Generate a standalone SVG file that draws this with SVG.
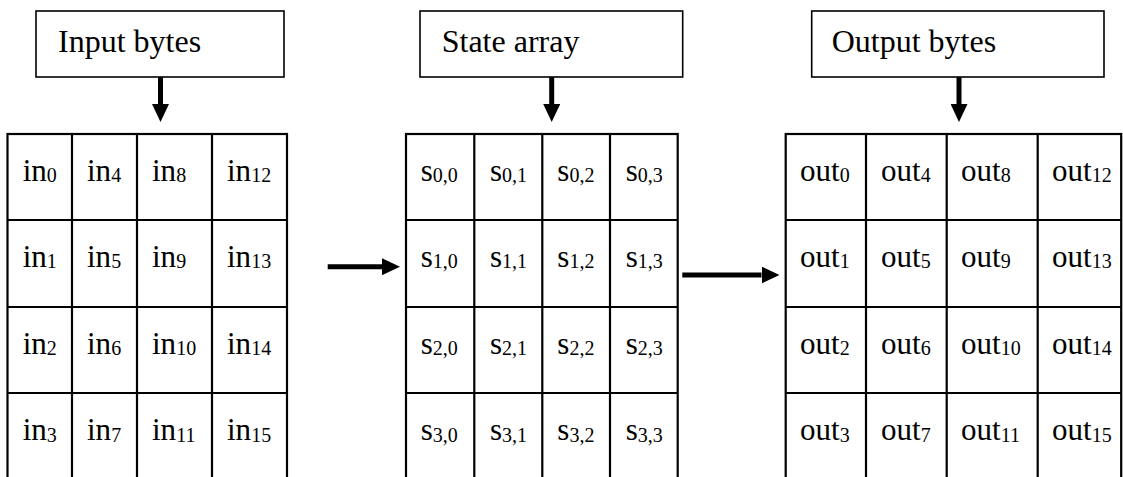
<svg xmlns="http://www.w3.org/2000/svg" width="1123" height="477" viewBox="0 0 1123 477">
<style>
  .box { fill: #fff; stroke: #000; stroke-width: 1.6; }
  .grid { fill: none; stroke: #000; stroke-width: 2.2; }
  .hd { font-family: "Liberation Serif", "Times New Roman", serif; font-size: 32px; fill: #000; }
  .c { font-family: "Liberation Serif", "Times New Roman", serif; font-size: 31px; fill: #000; }
  .sub { font-size: 20px; }
  .arr { stroke: #000; stroke-width: 5; fill: none; marker-end: url(#ah); }
</style>
<defs>
  <marker id="ah" viewBox="0 0 18 17" refX="0" refY="8.5" markerWidth="18" markerHeight="17" markerUnits="userSpaceOnUse" orient="auto">
    <path d="M0,0 L18,8.5 L0,17 Z" fill="#000"/>
  </marker>
</defs>
<rect width="1123" height="477" fill="#fff"/>

<g id="input-label">
  <rect class="box" x="36" y="11" width="248" height="66"/>
  <text class="hd" x="58" y="52">Input bytes</text>
</g>
<g id="state-label">
  <rect class="box" x="420" y="11" width="262.7" height="66"/>
  <text class="hd" x="441.7" y="52">State array</text>
</g>
<g id="output-label">
  <rect class="box" x="811.7" y="11" width="292.3" height="66"/>
  <text class="hd" x="831.7" y="52">Output bytes</text>
</g>

<g id="input-grid">
  <rect class="grid" x="7.5" y="134" width="279.5" height="400"/>
  <path class="grid" d="M72,134 V480 M137,134 V480 M212,134 V480 M7.5,220 H287 M7.5,307 H287 M7.5,393 H287"/>
  <g class="c">
    <text x="22.7" y="180.7">in<tspan class="sub" dy="1.5">0</tspan></text>
    <text x="87" y="180.7">in<tspan class="sub" dy="1.5">4</tspan></text>
    <text x="152" y="180.7">in<tspan class="sub" dy="1.5">8</tspan></text>
    <text x="227" y="180.7">in<tspan class="sub" dy="1.5">12</tspan></text>
    <text x="22.7" y="266.7">in<tspan class="sub" dy="1.5">1</tspan></text>
    <text x="87" y="266.7">in<tspan class="sub" dy="1.5">5</tspan></text>
    <text x="152" y="266.7">in<tspan class="sub" dy="1.5">9</tspan></text>
    <text x="227" y="266.7">in<tspan class="sub" dy="1.5">13</tspan></text>
    <text x="22.7" y="353.5">in<tspan class="sub" dy="1.5">2</tspan></text>
    <text x="87" y="353.5">in<tspan class="sub" dy="1.5">6</tspan></text>
    <text x="152" y="353.5">in<tspan class="sub" dy="1.5">10</tspan></text>
    <text x="227" y="353.5">in<tspan class="sub" dy="1.5">14</tspan></text>
    <text x="22.7" y="440">in<tspan class="sub" dy="1.5">3</tspan></text>
    <text x="87" y="440">in<tspan class="sub" dy="1.5">7</tspan></text>
    <text x="152" y="440">in<tspan class="sub" dy="1.5">11</tspan></text>
    <text x="227" y="440">in<tspan class="sub" dy="1.5">15</tspan></text>
  </g>
</g>

<g id="state-grid">
  <rect class="grid" x="406" y="134" width="271.7" height="400"/>
  <path class="grid" d="M474.3,134 V480 M542.3,134 V480 M610,134 V480 M406,220 H677.7 M406,307 H677.7 M406,393 H677.7"/>
  <g class="c">
    <text x="420.7" y="180.7">s<tspan class="sub" dy="1.5">0,0</tspan></text>
    <text x="490" y="180.7">s<tspan class="sub" dy="1.5">0,1</tspan></text>
    <text x="557.3" y="180.7">s<tspan class="sub" dy="1.5">0,2</tspan></text>
    <text x="625.7" y="180.7">s<tspan class="sub" dy="1.5">0,3</tspan></text>
    <text x="420.7" y="266.7">s<tspan class="sub" dy="1.5">1,0</tspan></text>
    <text x="490" y="266.7">s<tspan class="sub" dy="1.5">1,1</tspan></text>
    <text x="557.3" y="266.7">s<tspan class="sub" dy="1.5">1,2</tspan></text>
    <text x="625.7" y="266.7">s<tspan class="sub" dy="1.5">1,3</tspan></text>
    <text x="420.7" y="353.5">s<tspan class="sub" dy="1.5">2,0</tspan></text>
    <text x="490" y="353.5">s<tspan class="sub" dy="1.5">2,1</tspan></text>
    <text x="557.3" y="353.5">s<tspan class="sub" dy="1.5">2,2</tspan></text>
    <text x="625.7" y="353.5">s<tspan class="sub" dy="1.5">2,3</tspan></text>
    <text x="420.7" y="440">s<tspan class="sub" dy="1.5">3,0</tspan></text>
    <text x="490" y="440">s<tspan class="sub" dy="1.5">3,1</tspan></text>
    <text x="557.3" y="440">s<tspan class="sub" dy="1.5">3,2</tspan></text>
    <text x="625.7" y="440">s<tspan class="sub" dy="1.5">3,3</tspan></text>
  </g>
</g>

<g id="output-grid">
  <rect class="grid" x="785.7" y="134" width="335.5" height="400"/>
  <path class="grid" d="M866,134 V480 M946.7,134 V480 M1037.7,134 V480 M785.7,220 H1121.2 M785.7,307 H1121.2 M785.7,393 H1121.2"/>
  <g class="c">
    <text x="800" y="180.7">out<tspan class="sub" dy="1.5">0</tspan></text>
    <text x="881" y="180.7">out<tspan class="sub" dy="1.5">4</tspan></text>
    <text x="961" y="180.7">out<tspan class="sub" dy="1.5">8</tspan></text>
    <text x="1052" y="180.7">out<tspan class="sub" dy="1.5">12</tspan></text>
    <text x="800" y="266.7">out<tspan class="sub" dy="1.5">1</tspan></text>
    <text x="881" y="266.7">out<tspan class="sub" dy="1.5">5</tspan></text>
    <text x="961" y="266.7">out<tspan class="sub" dy="1.5">9</tspan></text>
    <text x="1052" y="266.7">out<tspan class="sub" dy="1.5">13</tspan></text>
    <text x="800" y="353.5">out<tspan class="sub" dy="1.5">2</tspan></text>
    <text x="881" y="353.5">out<tspan class="sub" dy="1.5">6</tspan></text>
    <text x="961" y="353.5">out<tspan class="sub" dy="1.5">10</tspan></text>
    <text x="1052" y="353.5">out<tspan class="sub" dy="1.5">14</tspan></text>
    <text x="800" y="440">out<tspan class="sub" dy="1.5">3</tspan></text>
    <text x="881" y="440">out<tspan class="sub" dy="1.5">7</tspan></text>
    <text x="961" y="440">out<tspan class="sub" dy="1.5">11</tspan></text>
    <text x="1052" y="440">out<tspan class="sub" dy="1.5">15</tspan></text>
  </g>
</g>

<g id="connectors">
  <line class="arr" x1="160.5" y1="77" x2="160.5" y2="104"/>
  <line class="arr" x1="551.7" y1="77" x2="551.7" y2="104"/>
  <line class="arr" x1="959" y1="77" x2="959" y2="104"/>
  <line class="arr" x1="327.7" y1="266.7" x2="382" y2="266.7"/>
  <line class="arr" x1="682.3" y1="275" x2="761.5" y2="275"/>
</g>
</svg>
